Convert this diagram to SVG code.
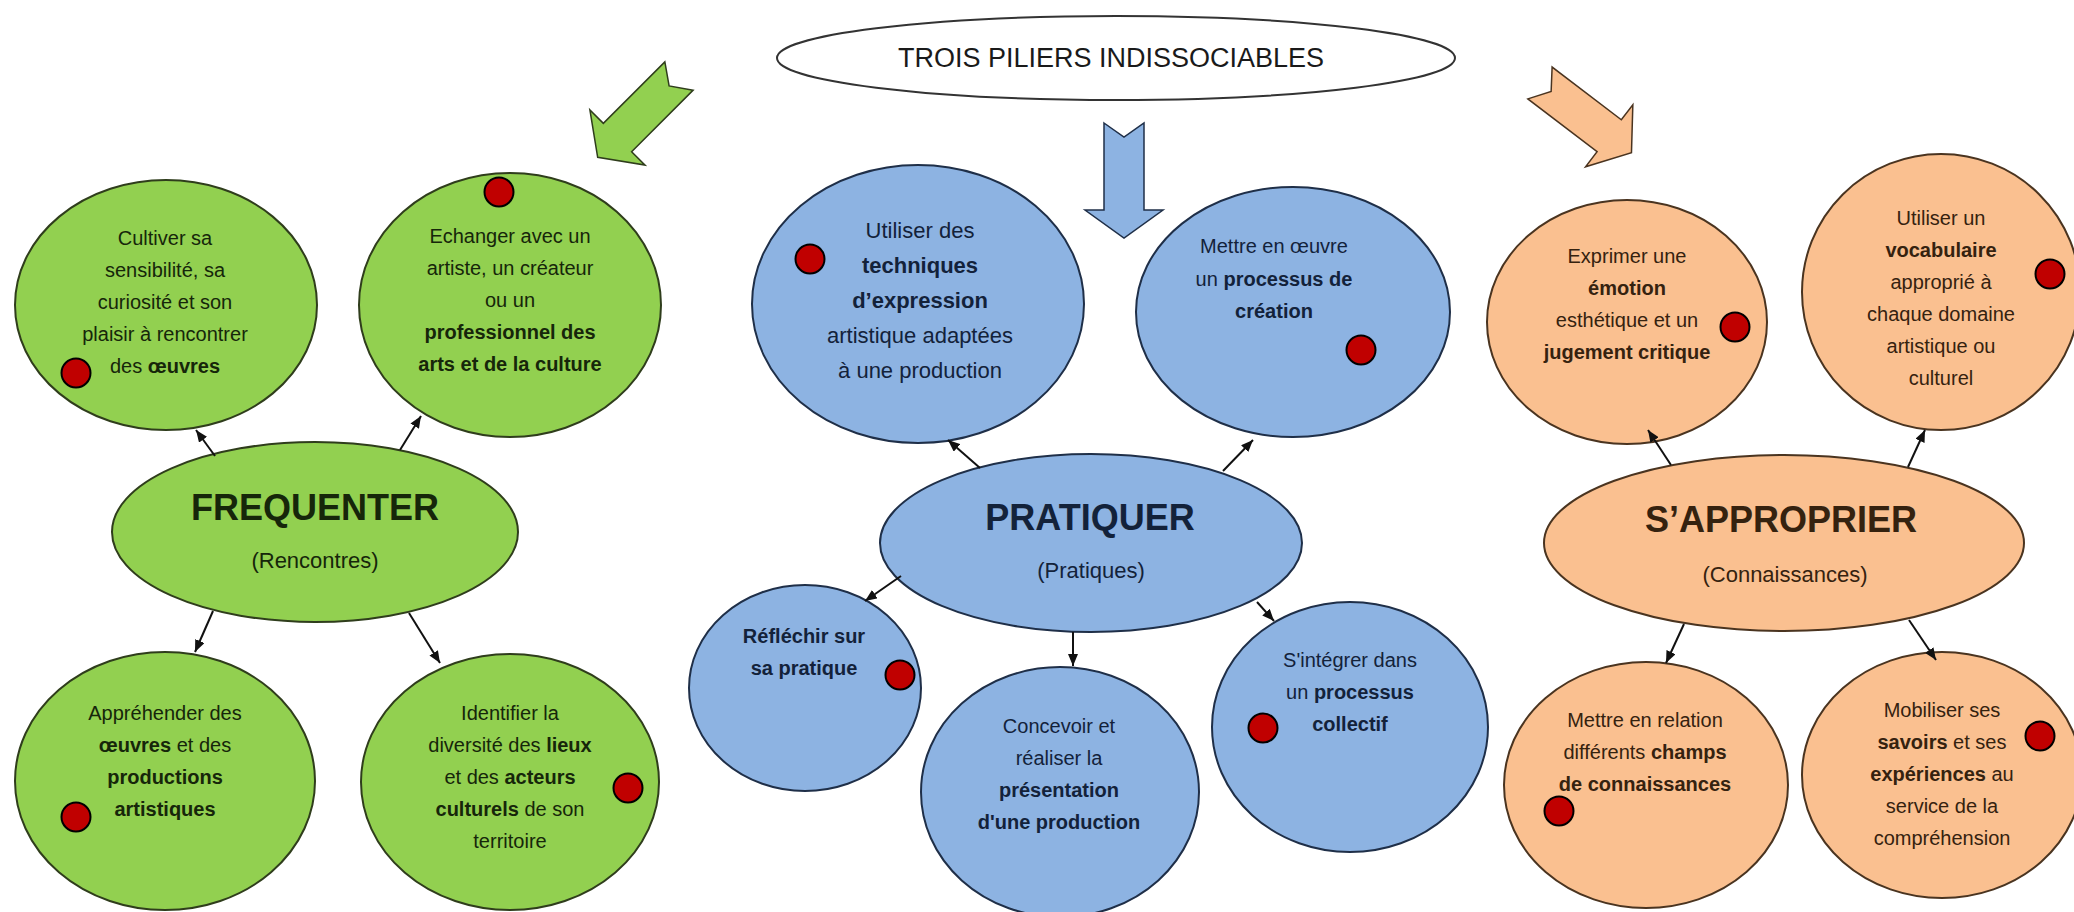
<svg xmlns="http://www.w3.org/2000/svg" width="2074" height="912" viewBox="0 0 2074 912">
<defs>
<style>
text{font-family:"Liberation Sans",Arial,sans-serif;text-anchor:middle}
.g{fill:#92d050;stroke:#2f3d1c;stroke-width:2}
.b{fill:#8db3e2;stroke:#1f2f48;stroke-width:2}
.o{fill:#fac090;stroke:#4a3420;stroke-width:2}
.tg{fill:#16260a;font-size:20px}
.tb{fill:#13223a;font-size:20px}
.to{fill:#35220f;font-size:20px}
.big{font-size:36px;font-weight:bold}
.sub{font-size:22px}
.bd{font-weight:bold}
.dot{fill:#c00000;stroke:#000;stroke-width:2}
.con{stroke:#111;stroke-width:2;fill:none;marker-end:url(#ah)}
</style>
<marker id="ah" viewBox="0 0 12 10" refX="12" refY="5" markerWidth="12" markerHeight="10" markerUnits="userSpaceOnUse" orient="auto">
<path d="M0,0 L12,5 L0,10 z" fill="#111"/>
</marker>
<polygon id="blk" points="-20,0 0,14 20,0 20,87 39,87 0,115 -39,87 -20,87"/>
</defs>
<rect width="2074" height="912" fill="#fff"/>

<g id="title">
<ellipse cx="1116" cy="58" rx="339" ry="42" fill="#fff" stroke="#333" stroke-width="2"/>
<text x="1111" y="67" font-size="27" fill="#1a1a1a">TROIS PILIERS INDISSOCIABLES</text>
</g>

<g id="big-arrows">
<use href="#blk" transform="translate(679,76) rotate(45)" fill="#92d050" stroke="#2f3d1c" stroke-width="1.5"/>
<use href="#blk" transform="translate(1124,123)" fill="#8db3e2" stroke="#1f2f48" stroke-width="1.5"/>
<use href="#blk" transform="translate(1540,83) rotate(-52.7)" fill="#fac090" stroke="#4a3420" stroke-width="1.5"/>
</g>

<g id="n-cultiver">
<ellipse class="g" cx="166" cy="305" rx="151" ry="125"/>
<text class="tg"><tspan x="165" y="245">Cultiver sa</tspan><tspan x="165" y="277">sensibilité, sa</tspan><tspan x="165" y="309">curiosité et son</tspan><tspan x="165" y="341">plaisir à rencontrer</tspan><tspan x="165" y="373">des <tspan class="bd">œuvres</tspan></tspan></text>
<circle class="dot" cx="76" cy="373" r="14.5"/>
</g>

<g id="n-echanger">
<ellipse class="g" cx="510" cy="305" rx="151" ry="132"/>
<text class="tg"><tspan x="510" y="243">Echanger avec un</tspan><tspan x="510" y="275">artiste, un créateur</tspan><tspan x="510" y="307">ou un</tspan><tspan x="510" y="339" class="bd">professionnel des</tspan><tspan x="510" y="371" class="bd">arts et de la culture</tspan></text>
<circle class="dot" cx="499" cy="192" r="14.5"/>
</g>

<g id="n-frequenter">
<ellipse class="g" cx="315" cy="532" rx="203" ry="90"/>
<text class="tg big" x="315" y="520">FREQUENTER</text>
<text class="tg sub" x="315" y="568">(Rencontres)</text>
</g>

<g id="n-apprehender">
<ellipse class="g" cx="165" cy="781" rx="150" ry="129"/>
<text class="tg"><tspan x="165" y="720">Appréhender des</tspan><tspan x="165" y="752"><tspan class="bd">œuvres</tspan>  et des</tspan><tspan x="165" y="784" class="bd">productions</tspan><tspan x="165" y="816" class="bd">artistiques</tspan></text>
<circle class="dot" cx="76" cy="817" r="14.5"/>
</g>

<g id="n-identifier">
<ellipse class="g" cx="510" cy="782" rx="149" ry="128"/>
<text class="tg"><tspan x="510" y="720">Identifier la</tspan><tspan x="510" y="752">diversité des <tspan class="bd">lieux</tspan></tspan><tspan x="510" y="784">et des <tspan class="bd">acteurs</tspan></tspan><tspan x="510" y="816"><tspan class="bd">culturels</tspan> de son</tspan><tspan x="510" y="848">territoire</tspan></text>
<circle class="dot" cx="628" cy="788" r="14.5"/>
</g>

<g id="n-utiliser-techniques">
<ellipse class="b" cx="918" cy="304" rx="166" ry="139"/>
<text class="tb" font-size="22"><tspan x="920" y="238" font-size="22">Utiliser des</tspan><tspan x="920" y="273" class="bd" font-size="22">techniques</tspan><tspan x="920" y="308" class="bd" font-size="22">d’expression</tspan><tspan x="920" y="343" font-size="22">artistique adaptées</tspan><tspan x="920" y="378" font-size="22">à une production</tspan></text>
<circle class="dot" cx="810" cy="259" r="14.5"/>
</g>

<g id="n-mettre-oeuvre">
<ellipse class="b" cx="1293" cy="312" rx="157" ry="125"/>
<text class="tb"><tspan x="1274" y="253">Mettre en œuvre</tspan><tspan x="1274" y="286">un <tspan class="bd">processus de</tspan></tspan><tspan x="1274" y="318" class="bd">création</tspan></text>
<circle class="dot" cx="1361" cy="350" r="14.5"/>
</g>

<g id="n-pratiquer">
<ellipse class="b" cx="1091" cy="543" rx="211" ry="89"/>
<text class="tb big" x="1090" y="530">PRATIQUER</text>
<text class="tb sub" x="1091" y="578">(Pratiques)</text>
</g>

<g id="n-reflechir">
<ellipse class="b" cx="805" cy="688" rx="116" ry="103"/>
<text class="tb bd"><tspan x="804" y="643">Réfléchir sur</tspan><tspan x="804" y="675">sa pratique</tspan></text>
<circle class="dot" cx="900" cy="675" r="14.5"/>
</g>

<g id="n-concevoir">
<ellipse class="b" cx="1060" cy="792" rx="139" ry="125"/>
<text class="tb"><tspan x="1059" y="733">Concevoir et</tspan><tspan x="1059" y="765">réaliser la</tspan><tspan x="1059" y="797" class="bd">présentation</tspan><tspan x="1059" y="829" class="bd">d'une production</tspan></text>
</g>

<g id="n-integrer">
<ellipse class="b" cx="1350" cy="727" rx="138" ry="125"/>
<text class="tb"><tspan x="1350" y="667">S'intégrer dans</tspan><tspan x="1350" y="699">un <tspan class="bd">processus</tspan></tspan><tspan x="1350" y="731" class="bd">collectif</tspan></text>
<circle class="dot" cx="1263" cy="728" r="14.5"/>
</g>

<g id="n-exprimer">
<ellipse class="o" cx="1627" cy="322" rx="140" ry="122"/>
<text class="to"><tspan x="1627" y="263">Exprimer une</tspan><tspan x="1627" y="295" class="bd">émotion</tspan><tspan x="1627" y="327">esthétique et un</tspan><tspan x="1627" y="359" class="bd">jugement critique</tspan></text>
<circle class="dot" cx="1735" cy="327" r="14.5"/>
</g>

<g id="n-vocabulaire">
<ellipse class="o" cx="1941" cy="292" rx="139" ry="138"/>
<text class="to"><tspan x="1941" y="225">Utiliser un</tspan><tspan x="1941" y="257" class="bd">vocabulaire</tspan><tspan x="1941" y="289">approprié à</tspan><tspan x="1941" y="321">chaque domaine</tspan><tspan x="1941" y="353">artistique ou</tspan><tspan x="1941" y="385">culturel</tspan></text>
<circle class="dot" cx="2050" cy="274" r="14.5"/>
</g>

<g id="n-approprier">
<ellipse class="o" cx="1784" cy="543" rx="240" ry="88"/>
<text class="to big" x="1781" y="532" font-size="35">S’APPROPRIER</text>
<text class="to sub" x="1785" y="582">(Connaissances)</text>
</g>

<g id="n-relation">
<ellipse class="o" cx="1646" cy="785" rx="142" ry="123"/>
<text class="to"><tspan x="1645" y="727">Mettre en relation</tspan><tspan x="1645" y="759">différents <tspan class="bd">champs</tspan></tspan><tspan x="1645" y="791" class="bd">de connaissances</tspan></text>
<circle class="dot" cx="1559" cy="811" r="14.5"/>
</g>

<g id="n-mobiliser">
<ellipse class="o" cx="1942" cy="775" rx="140" ry="123"/>
<text class="to"><tspan x="1942" y="717">Mobiliser ses</tspan><tspan x="1942" y="749"><tspan class="bd">savoirs</tspan> et ses</tspan><tspan x="1942" y="781"><tspan class="bd">expériences</tspan> au</tspan><tspan x="1942" y="813">service de la</tspan><tspan x="1942" y="845">compréhension</tspan></text>
<circle class="dot" cx="2040" cy="736" r="14.5"/>
</g>

<g id="connectors">
<line class="con" x1="215" y1="456" x2="196" y2="430"/>
<line class="con" x1="400" y1="450" x2="421" y2="416"/>
<line class="con" x1="213" y1="611" x2="195" y2="652"/>
<line class="con" x1="409" y1="613" x2="440" y2="663"/>
<line class="con" x1="980" y1="468" x2="948" y2="440"/>
<line class="con" x1="1223" y1="471" x2="1253" y2="440"/>
<line class="con" x1="901" y1="576" x2="865" y2="601"/>
<line class="con" x1="1073" y1="632" x2="1073" y2="666"/>
<line class="con" x1="1257" y1="602" x2="1274" y2="621"/>
<line class="con" x1="1671" y1="465" x2="1648" y2="430"/>
<line class="con" x1="1908" y1="467" x2="1925" y2="430"/>
<line class="con" x1="1684" y1="624" x2="1666" y2="663"/>
<line class="con" x1="1909" y1="620" x2="1936" y2="660"/>
</g>
</svg>
